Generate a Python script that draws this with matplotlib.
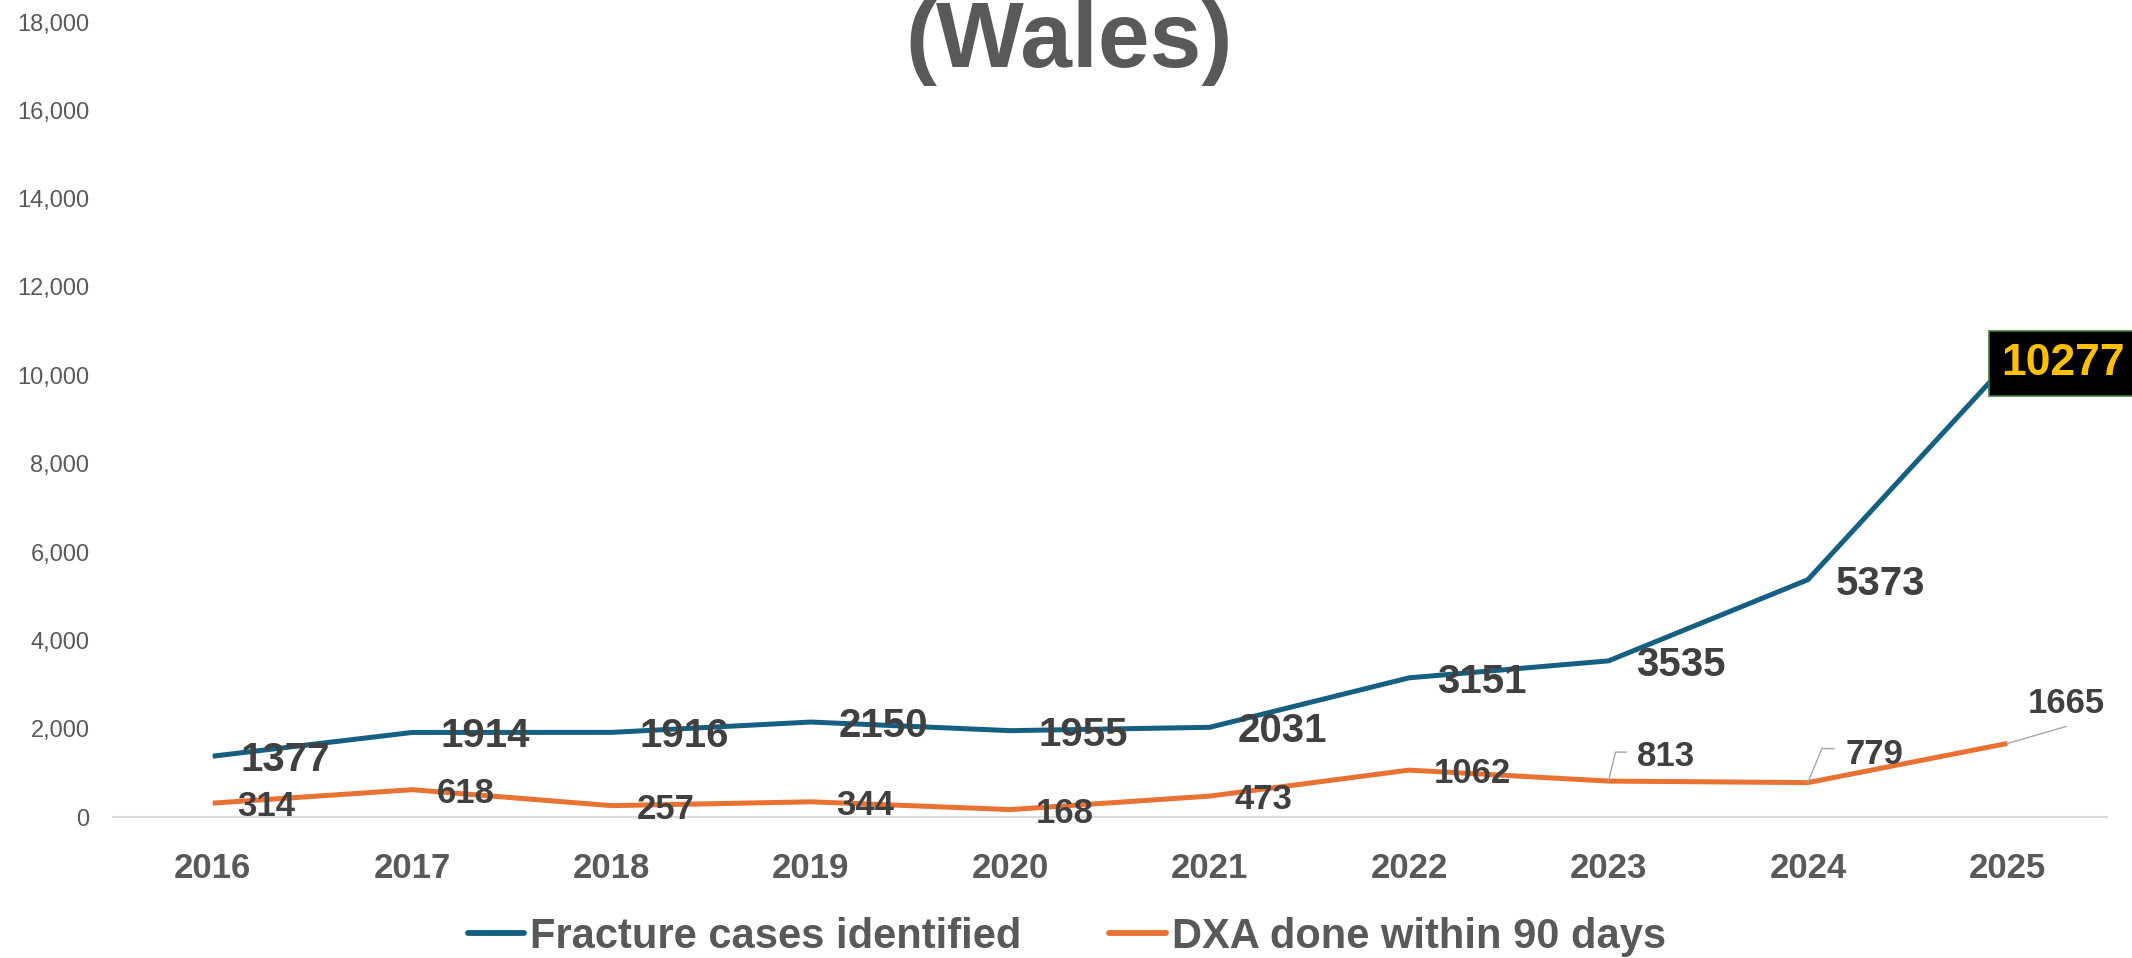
import matplotlib
matplotlib.use("Agg")
import matplotlib.pyplot as plt
from matplotlib.lines import Line2D
from matplotlib.transforms import IdentityTransform
from matplotlib.ticker import FuncFormatter

plt.rcParams['font.family'] = ['Liberation Sans', 'DejaVu Sans']

# ---- data ----
years = ['2016', '2017', '2018', '2019', '2020', '2021', '2022', '2023', '2024', '2025']
fracture_cases = [1377, 1914, 1916, 2150, 1955, 2031, 3151, 3535, 5373, 10277]
dxa_90_days = [314, 618, 257, 344, 168, 473, 1062, 813, 779, 1665]
series_names = ['Fracture cases identified', 'DXA done within 90 days']
title_text = '(Wales)'
y_ticks = list(range(0, 18001, 2000))

BLUE = '#156082'
ORANGE = '#E97132'
GRAY = '#595959'
DARK = '#404040'

W, H = 2132, 958
fig = plt.figure(figsize=(W / 100, H / 100), dpi=100)
fig.patch.set_facecolor('white')

# axes placement in pixels
ax_left, ax_right, ax_top, ax_bottom = 113, 2107, 22, 817
ax = fig.add_axes([ax_left / W, 1 - ax_bottom / H, (ax_right - ax_left) / W, (ax_bottom - ax_top) / H])

x = list(range(len(years)))
l1, = ax.plot(x, fracture_cases, color=BLUE, lw=3.6, solid_joinstyle='round', solid_capstyle='butt', zorder=3)
l2, = ax.plot(x, dxa_90_days, color=ORANGE, lw=3.6, solid_joinstyle='round', solid_capstyle='butt', zorder=3)

ax.set_xlim(-0.5, len(years) - 0.5)
ax.set_ylim(0, 18000)
ax.set_yticks(y_ticks)
ax.yaxis.set_major_formatter(FuncFormatter(lambda v, p: f'{int(v):,}'))
ax.set_xticks(x)
ax.set_xticklabels(years)

for s in ['top', 'right', 'left']:
    ax.spines[s].set_visible(False)
ax.spines['bottom'].set_color('#D9D9D9')
ax.spines['bottom'].set_linewidth(1.5)
ax.tick_params(axis='y', length=0, pad=17, labelsize=17, labelcolor=GRAY)
ax.tick_params(axis='x', length=0, pad=25, labelsize=25, labelcolor=GRAY)
for t in ax.get_xticklabels():
    t.set_fontweight('bold')
ax.set_facecolor('none')

# ---- data labels ----
for i, v in enumerate(fracture_cases):
    if i == len(fracture_cases) - 1:
        ax.annotate(str(v), (i, v), xytext=(-6, 0), textcoords='offset pixels',
                    ha='left', va='center', fontsize=32, fontweight='bold', color='#FFC000',
                    bbox=dict(boxstyle='square,pad=0.27', fc='black', ec='#3F7F3F', lw=1.2),
                    zorder=6, annotation_clip=False)
    else:
        ax.annotate(str(v), (i, v), xytext=(28, 0), textcoords='offset pixels',
                    ha='left', va='center_baseline', fontsize=29, fontweight='bold', color=DARK,
                    zorder=5, annotation_clip=False)

# orange labels: offsets in image pixels (right, down) and leader polylines
orange_offsets = {7: (28, -28), 8: (38, -32), 9: (20, -43)}
orange_leaders = {7: [(0, 0), (7, -29), (18, -29)],
                  8: [(0, 0), (14, -34), (26, -34)],
                  9: [(0, 0), (59, -17)]}
for i, v in enumerate(dxa_90_days):
    dx, dy = orange_offsets.get(i, (25, 0))
    ax.annotate(str(v), (i, v), xytext=(dx, -dy), textcoords='offset pixels',
                ha='left', va='center_baseline', fontsize=25, fontweight='bold', color=DARK,
                zorder=5, annotation_clip=False)

fig.canvas.draw()
for i, pts in orange_leaders.items():
    px, py = ax.transData.transform((i, dxa_90_days[i]))
    xs = [px + a for a, b in pts]
    ys = [py - b for a, b in pts]
    fig.add_artist(Line2D(xs, ys, transform=IdentityTransform(), color='#A6A6A6', lw=1.0, zorder=4))

# ---- title ----
fig.text(1069 / W, 1 - 67 / H, title_text, ha='center', va='baseline',
         fontsize=67, fontweight='bold', color=GRAY)

# ---- legend ----
leg = fig.legend([l1, l2], series_names, loc='center', bbox_to_anchor=(1067 / W, 1 - 937 / H),
                 ncol=2, frameon=False, fontsize=30, handlelength=1.35, handletextpad=0.15,
                 columnspacing=2.1, borderaxespad=0, borderpad=0)
for t in leg.get_texts():
    t.set_fontweight('bold')
    t.set_color(GRAY)
for h in leg.get_lines():
    h.set_linewidth(4.2)
    h.set_solid_capstyle('round')

fig.savefig('out.png', dpi=100)
